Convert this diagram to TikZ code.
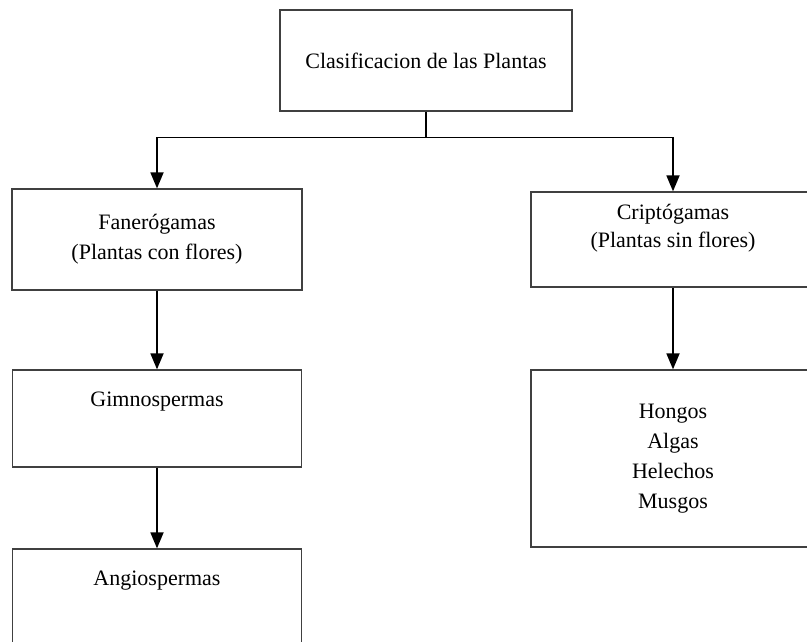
\documentclass[tikz,border=0pt]{standalone}
\usepackage{fontspec}
\setmainfont{Liberation Serif}
\usetikzlibrary{arrows.meta}

\begin{document}
\begin{tikzpicture}[x=1pt,y=-1pt,
  caja/.style={draw=black!75, line width=1.3pt, align=center, inner sep=0pt,
    font=\fontsize{22}{30}\selectfont},
  flecha/.style={line width=1.8pt, -{Triangle[length=16pt,width=13pt]}}]
  \useasboundingbox (0,0) rectangle (807,641);
  % cajas
  \node[caja, minimum width=292, minimum height=101] (plantas) at (426,60.5) {Clasificacion de las Plantas};
  \node[caja, minimum width=290, minimum height=101] (fanero) at (157,239.5) {Fanerógamas\\(Plantas con flores)};
  \node[caja, minimum width=284, minimum height=95] (cripto) at (673,239.5) {Criptógamas\\[-2pt](Plantas sin flores)\\[-12pt] \strut};
  \node[caja, minimum width=289, minimum height=97] (gimno) at (157,418.5) {Gimnospermas\\ \strut};
  \node[caja, minimum width=289, minimum height=97] (angio) at (157,597.5) {Angiospermas\\ \strut};
  \node[caja, minimum width=284, minimum height=177] (grupos) at (673,458.5) {Hongos\\Algas\\Helechos\\Musgos};
  % conectores
  \coordinate (cruce) at (426,137.5);
  \draw[line width=1.8pt] (plantas.south) -- (cruce);
  \draw[flecha] (cruce) -| (fanero.north);
  \draw[flecha] (cruce) -| (cripto.north);
  \draw[flecha] (fanero.south) -- (gimno.north);
  \draw[flecha] (gimno.south) -- (angio.north);
  \draw[flecha] (cripto.south) -- (grupos.north);
\end{tikzpicture}
\end{document}
